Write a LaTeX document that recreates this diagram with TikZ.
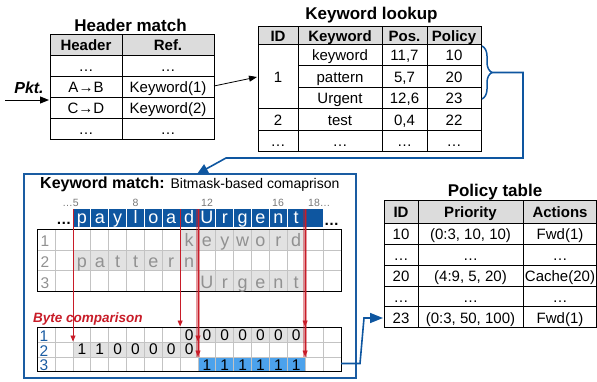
\documentclass[tikz,border=0pt]{standalone}
\usepackage{fontspec}
\setmainfont{Liberation Sans}
\usetikzlibrary{arrows.meta,decorations.pathreplacing}
\definecolor{kblue}{RGB}{14,86,160}
\definecolor{bblue}{RGB}{26,92,162}
\definecolor{lblue}{RGB}{76,162,236}
\definecolor{hgray}{RGB}{220,220,220}
\definecolor{cgray}{RGB}{226,226,226}
\definecolor{ggrid}{RGB}{195,195,195}
\definecolor{tgray}{RGB}{145,145,145}
\definecolor{igray}{RGB}{120,120,120}
\definecolor{kred}{RGB}{200,28,40}
\newcommand\myfs[1]{\fontsize{#1}{#1}\selectfont}
\tikzset{
  tline/.style={draw=black, line width=0.9pt},
  ttext/.style={font=\myfs{15}, inner sep=0pt, anchor=base},
  thead/.style={font=\bfseries\myfs{15}, inner sep=0pt, anchor=base},
  ttitle/.style={font=\bfseries\myfs{17}, inner sep=0pt, anchor=base},
  idxlab/.style={font=\myfs{10.5}, text=igray, inner sep=0pt, anchor=base},
  stripch/.style={font=\myfs{18}, text=white, inner sep=0pt, anchor=base},
  gridch/.style={font=\myfs{18}, text=tgray, inner sep=0pt, anchor=base},
  rowlab/.style={font=\myfs{15.5}, text=tgray, inner sep=0pt, anchor=base},
  bytelab/.style={font=\myfs{15.5}, text=bblue, inner sep=0pt, anchor=base},
  bytech/.style={font=\myfs{15.5}, text=black, inner sep=0pt, anchor=base},
  gline/.style={draw=ggrid, line width=0.8pt},
  bluecon/.style={draw=kblue, line width=1.6pt},
  redthin/.style={draw=kred, line width=0.9pt, -{Triangle[length=6pt,width=5pt]}},
  redthick/.style={draw=kred, line width=4pt, opacity=0.45},
}
\begin{document}
\begin{tikzpicture}[x=1pt,y=-1pt]
\useasboundingbox (0,0) rectangle (597,381);

% ---------------- Header match ----------------
\node[ttitle] (hmt) at (130.5,31) {Header match};
\fill[hgray] (50,34) rectangle (214,55);
\draw[tline] (50,34) rectangle (214,139);
\foreach \yy in {55,76,97,118} \draw[tline] (50,\yy) -- (214,\yy);
\draw[tline] (122,34) -- (122,139);
\node[thead] (hmh1) at (86,50.5) {Header};
\node[thead] (hmh2) at (168,50.5) {Ref.};
\node[ttext] (hm11) at (86,71.5) {…};
\node[ttext] (hm12) at (168,71.5) {…};
\node[ttext] (hm21) at (86,92.5) {A→B};
\node[ttext] (kw1) at (168,92.5) {Keyword(1)};
\node[ttext] (hm31) at (86,113.5) {C→D};
\node[ttext] (kw2) at (168,113.5) {Keyword(2)};
\node[ttext] (hm41) at (86,134.5) {…};
\node[ttext] (hm42) at (168,134.5) {…};

% Pkt arrow
\node[font=\bfseries\itshape\myfs{16}, inner sep=0pt, anchor=base] (pkt) at (29,93) {Pkt.};
\coordinate (pktin) at (5,100);
\coordinate (hmin) at (49,100);
\draw[line width=1pt, -{Triangle[length=9pt,width=7pt]}] (pktin) -- (hmin);

% ---------------- Keyword lookup ----------------
\node[ttitle] (klt) at (371.5,19) {Keyword lookup};
\fill[hgray] (258,26) rectangle (481,44);
\draw[tline] (258,26) rectangle (481,151);
\draw[tline] (258,44) -- (481,44);
\draw[tline] (298,65.5) -- (481,65.5);
\draw[tline] (298,87) -- (481,87);
\draw[tline] (258,108.5) -- (481,108.5);
\draw[tline] (258,130) -- (481,130);
\foreach \xx in {298,382,427} \draw[tline] (\xx,26) -- (\xx,151);
\node[thead] (klh1) at (278,41) {ID};
\node[thead] (klh2) at (340,41) {Keyword};
\node[thead] (klh3) at (404.5,41) {Pos.};
\node[thead] (klh4) at (454,41) {Policy};
\node[ttext] (kid1) at (278,82.3) {1};
\node[ttext] (kk1) at (340,60.8) {keyword};
\node[ttext] (kp1) at (404.5,60.8) {11,7};
\node[ttext] (kq1) at (454,60.8) {10};
\node[ttext] (kk2) at (340,82.3) {pattern};
\node[ttext] (kp2) at (404.5,82.3) {5,7};
\node[ttext] (kq2) at (454,82.3) {20};
\node[ttext] (kk3) at (340,103.8) {Urgent};
\node[ttext] (kp3) at (404.5,103.8) {12,6};
\node[ttext] (kq3) at (454,103.8) {23};
\node[ttext] (kid2) at (278,125.3) {2};
\node[ttext] (kk4) at (340,125.3) {test};
\node[ttext] (kp4) at (404.5,125.3) {0,4};
\node[ttext] (kq4) at (454,125.3) {22};
\node[ttext] (kid5) at (278,146.5) {…};
\node[ttext] (kk5) at (340,146.5) {…};
\node[ttext] (kp5) at (404.5,146.5) {…};
\node[ttext] (kq5) at (454,146.5) {…};

% arrow Keyword(1) -> lookup
\coordinate (hmr) at (214,86);
\coordinate (klin) at (257,77);
\draw[line width=0.8pt, -{Triangle[length=8pt,width=6pt]}] (hmr) -- (klin);

% brace
\draw[kblue, line width=1.5pt, decorate, decoration={brace, amplitude=10pt}] (482,46) -- (482,99);
\coordinate (bt) at (492,72.5);

% ---------------- Keyword match box ----------------
\node[draw=bblue, line width=2pt, minimum width=332pt, minimum height=204pt, inner sep=0pt, anchor=north west] (kmbox) at (23,173) {};
\coordinate (kmin) at (197,174);
\draw[bluecon, -{Triangle[length=11pt,width=10pt]}] (bt) -- (523,72.5) -- (523,158) -- (226,158) -- (kmin);

\node[anchor=base west, inner sep=0pt] (kmt) at (40,188) {\bfseries\myfs{16}Keyword match: \mdseries\myfs{14}Bitmask-based comaprison};

% index labels
\node[idxlab, anchor=base east] (i5) at (79,206.5) {…5};
\node[idxlab] (i8) at (135.5,206.5) {8};
\node[idxlab] (i12) at (207,206.5) {12};
\node[idxlab] (i16) at (278,206.5) {16};
\node[idxlab, anchor=base west] (i18) at (308,206.5) {18…};

% payload strip
\fill[kblue] (73,209) rectangle (323,227);
\foreach \i in {6,...,18} {
  \pgfmathsetmacro\xx{73+(\i-5)*17.857}
  \draw[white, line width=0.8pt] (\xx,209) -- (\xx,227);
}
\foreach \c [count=\n from 5] in {p,a,y,l,o,a,d,U,r,g,e,n,t} {
  \pgfmathsetmacro\xx{73+(\n-5)*17.857+8.93}
  \node[stripch] (s\n) at (\xx,223.5) {\c};
}
\node[font=\bfseries\myfs{15}, inner sep=0pt, anchor=base east] (dl) at (71.5,224.5) {…};
\node[font=\bfseries\myfs{15}, inner sep=0pt, anchor=base west] (dr) at (324,225.5) {…};

% keyword grid
\fill[cgray] (180.14,229) rectangle (305.14,250.3);
\fill[cgray] (73,250.3) rectangle (198,270.7);
\fill[cgray] (198,270.7) rectangle (305.14,291);
\draw[gline] (55.14,229) -- (55.14,291);
\foreach \i in {5,...,19} {
  \pgfmathsetmacro\xx{73+(\i-5)*17.857}
  \draw[gline] (\xx,229) -- (\xx,291);
}
\draw[gline] (37,250.3) -- (341,250.3);
\draw[gline] (37,270.7) -- (341,270.7);
\draw[tline] (37,229) rectangle (341,291);
\node[rowlab] (g1) at (45,246) {1};
\node[rowlab] (g2) at (45,267) {2};
\node[rowlab] (g3) at (45,288) {3};
\foreach \c [count=\n from 11] in {k,e,y,w,o,r,d} {
  \pgfmathsetmacro\xx{73+(\n-5)*17.857+8.93}
  \node[gridch] (ga\n) at (\xx,246.5) {\c};
}
\foreach \c [count=\n from 5] in {p,a,t,t,e,r,n} {
  \pgfmathsetmacro\xx{73+(\n-5)*17.857+8.93}
  \node[gridch] (gb\n) at (\xx,267) {\c};
}
\foreach \c [count=\n from 12] in {U,r,g,e,n,t} {
  \pgfmathsetmacro\xx{73+(\n-5)*17.857+8.93}
  \node[gridch] (gc\n) at (\xx,288) {\c};
}

% byte comparison
\node[font=\bfseries\itshape\myfs{13.5}, text=kred, inner sep=0pt, anchor=base west] (bclab) at (33,322.5) {Byte comparison};
\fill[cgray] (180.14,327) rectangle (305.14,342);
\fill[cgray] (73,342) rectangle (198,357);
\fill[lblue] (198,357) rectangle (305.14,371.5);
\draw[gline] (55.14,327) -- (55.14,371.5);
\foreach \i in {5,...,19} {
  \pgfmathsetmacro\xx{73+(\i-5)*17.857}
  \draw[gline] (\xx,327) -- (\xx,371.5);
}
\draw[gline] (37,342) -- (341,342);
\draw[gline] (37,357) -- (341,357);
\draw[tline] (37,327) rectangle (341,371.5);
\node[bytelab] (b1) at (44,341) {1};
\node[bytelab] (b2) at (44,356) {2};
\node[bytelab] (b3) at (44,370.5) {3};
\foreach \c [count=\n from 11] in {0,0,0,0,0,0,0} {
  \pgfmathsetmacro\xx{73+(\n-5)*17.857+8.93}
  \node[bytech] (ba\n) at (\xx,340.5) {\c};
}
\foreach \c [count=\n from 5] in {1,1,0,0,0,0,0} {
  \pgfmathsetmacro\xx{73+(\n-5)*17.857+8.93}
  \node[bytech] (bb\n) at (\xx,354.5) {\c};
}
\foreach \c [count=\n from 12] in {1,1,1,1,1,1} {
  \pgfmathsetmacro\xx{73+(\n-5)*17.857+8.93}
  \node[bytech] (bc\n) at (\xx,370) {\c};
}

% red comparison lines
\coordinate (t5) at (73,209);
\coordinate (t11) at (180.14,209);
\coordinate (t12) at (198,209);
\coordinate (t18) at (305.14,209);
\coordinate (e5) at (73,341.5);
\coordinate (e11) at (180.14,326.5);
\coordinate (e12a) at (198,341.5);
\coordinate (e12b) at (198,356.5);
\coordinate (e18a) at (305.14,326.5);
\coordinate (e18b) at (305.14,356.5);
\draw[redthick] (t12) -- (e12b);
\draw[redthick] (t18) -- (e18b);
\draw[redthin] (t5) -- (e5);
\draw[redthin] (t11) -- (e11);
\draw[redthin] (t12) -- (e12a);
\draw[redthin] (t12) -- (e12b);
\draw[redthin] (t18) -- (e18a);
\draw[redthin] (t18) -- (e18b);

% ---------------- Policy table ----------------
\node[ttitle] (ptt) at (495,196) {Policy table};
\fill[hgray] (384,200) rectangle (596.5,223);
\draw[tline] (384,200) rectangle (596.5,327);
\foreach \yy in {223,244,265,286,306.5} \draw[tline] (384,\yy) -- (596.5,\yy);
\foreach \xx in {418,523} \draw[tline] (\xx,200) -- (\xx,327);
\node[thead] (ph1) at (401,217.5) {ID};
\node[thead] (ph2) at (470.5,217.5) {Priority};
\node[thead] (ph3) at (560,217.5) {Actions};
\node[ttext] (p11) at (401,239.5) {10};
\node[ttext] (p12) at (470.5,239.5) {(0:3, 10, 10)};
\node[ttext] (p13) at (560,239.5) {Fwd(1)};
\node[ttext] (p21) at (401,260.5) {…};
\node[ttext] (p22) at (470.5,260.5) {…};
\node[ttext] (p23) at (560,260.5) {…};
\node[ttext] (p31) at (401,281.5) {20};
\node[ttext] (p32) at (470.5,281.5) {(4:9, 5, 20)};
\node[ttext] (p33) at (560,281.5) {Cache(20)};
\node[ttext] (p41) at (401,302) {…};
\node[ttext] (p42) at (470.5,302) {…};
\node[ttext] (p43) at (560,302) {…};
\node[ttext] (p51) at (401,323) {23};
\node[ttext] (p52) at (470.5,323) {(0:3, 50, 100)};
\node[ttext] (p53) at (560,323) {Fwd(1)};

% connector byte row 3 -> policy 23
\coordinate (b3r) at (341,363.5);
\coordinate (pin) at (383,318);
\draw[bluecon, -{Triangle[length=13pt,width=10pt]}] (b3r) -- (360,363.5) -- (364,318) -- (pin);
\end{tikzpicture}
\end{document}
